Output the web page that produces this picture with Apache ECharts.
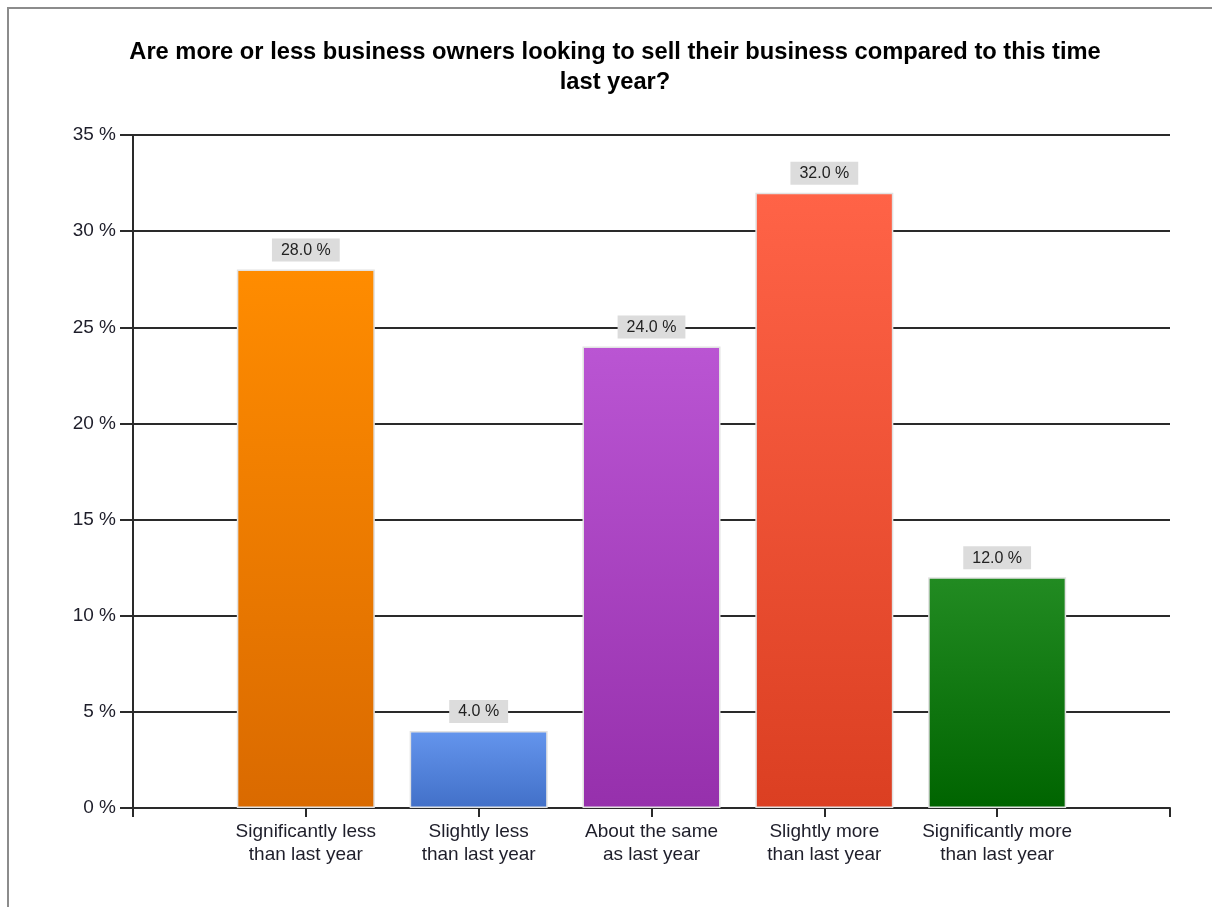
<!DOCTYPE html>
<html>
<head>
<meta charset="utf-8">
<script src="https://cdn.jsdelivr.net/npm/echarts@6/dist/echarts.min.js"></script>
<style>
  html, body { margin: 0; padding: 0; background: #fff; }
  #chart { width: 1212px; height: 907px; }
</style>
</head>
<body>
<div id="chart"></div>
<script>
// Survey answers and their shares (percent)
const categories = [
  'Significantly less\nthan last year',
  'Slightly less\nthan last year',
  'About the same\nas last year',
  'Slightly more\nthan last year',
  'Significantly more\nthan last year'
];
const values = [28.0, 4.0, 24.0, 32.0, 12.0];
// Top and bottom gradient colours for each bar
const topColors = ['#FF8C00', '#6495ED', '#BA55D3', '#FF6347', '#228B22'];
const bottomColors = ['#DA6A00', '#4270C8', '#9630AC', '#DB3F22', '#006400'];
const titleText = 'Are more or less business owners looking to sell their business compared to this time\nlast year?';

// Empty slots at both ends give the axis its outer ticks
const axisCats = [''].concat(categories, ['']);
const barData = [{ value: null }].concat(values.map((v, i) => ({
  value: v,
  itemStyle: {
    color: new echarts.graphic.LinearGradient(0, 0, 0, 1, [
      { offset: 0, color: topColors[i] },
      { offset: 1, color: bottomColors[i] }
    ])
  }
})), [{ value: null }]);

const lineColor = '#2a2a2a';

const chart = echarts.init(document.getElementById('chart'), null, { renderer: 'canvas' });
chart.setOption({
  backgroundColor: '#fff',
  animation: false,
  title: {
    text: titleText,
    left: 610,
    textAlign: 'center',
    top: 32,
    textStyle: {
      fontFamily: 'Liberation Sans, Arial, sans-serif',
      fontWeight: 'bold',
      fontSize: 23.7,
      lineHeight: 30,
      color: '#000'
    }
  },
  graphic: [{
    type: 'rect',
    shape: { x: 8, y: 8, width: 1240, height: 1000 },
    style: { fill: 'none', stroke: '#8c8c8c', lineWidth: 2 },
    z: 100
  }],
  grid: { left: 133, right: 42, top: 135, bottom: 99, containLabel: false },
  xAxis: {
    type: 'category',
    data: axisCats,
    boundaryGap: false,
    axisLine: { show: true, lineStyle: { color: lineColor, width: 2 } },
    axisTick: { show: true, length: 9, alignWithLabel: true, lineStyle: { color: lineColor, width: 2 } },
    axisLabel: {
      interval: 0,
      margin: 12,
      fontFamily: 'Liberation Sans, Arial, sans-serif',
      fontSize: 19,
      lineHeight: 23,
      color: '#1e1e2a'
    },
    splitLine: { show: false }
  },
  yAxis: {
    type: 'value',
    min: 0,
    max: 35,
    interval: 5,
    axisLine: { show: true, lineStyle: { color: lineColor, width: 2 } },
    axisTick: { show: true, length: 13, lineStyle: { color: lineColor, width: 2 } },
    axisLabel: {
      formatter: '{value} %',
      margin: 17,
      fontFamily: 'Liberation Sans, Arial, sans-serif',
      fontSize: 19,
      color: '#1e1e2a'
    },
    splitLine: { show: true, lineStyle: { color: lineColor, width: 2 } }
  },
  series: [{
    type: 'bar',
    data: barData,
    barWidth: 138,
    itemStyle: { borderColor: '#e2e2e2', borderWidth: 1.5 },
    label: {
      show: true,
      position: 'top',
      distance: 8,
      formatter: p => p.value.toFixed(1) + ' %',
      backgroundColor: '#dcdcdc',
      padding: [4, 9, 3, 9],
      fontFamily: 'Liberation Sans, Arial, sans-serif',
      fontSize: 16,
      color: '#222'
    }
  }]
});
</script>
</body>
</html>
